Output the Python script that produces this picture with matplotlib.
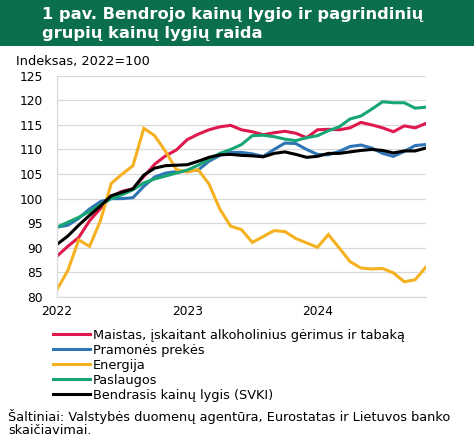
import numpy as np
import matplotlib
matplotlib.use('Agg')
import matplotlib.pyplot as plt
from matplotlib.patches import Rectangle

plt.rcParams['font.family'] = ['DejaVu Sans']

# mėnesiai nuo 2022-01 iki 2024-11
months = np.arange(35)
year_ticks = [0, 12, 24]
year_labels = ['2022', '2023', '2024']

maistas = [88.3, 90.3, 92.1, 95.5, 98.0, 100.4, 101.5, 102.0, 104.5, 107.0,
           108.7, 109.9, 112.0, 113.1, 114.0, 114.6, 114.9, 114.0, 113.6, 113.0,
           113.4, 113.7, 113.3, 112.4, 114.0, 114.1, 114.0, 114.4, 115.5, 115.0,
           114.4, 113.6, 114.8, 114.4, 115.3]
pramone = [94.2, 94.6, 96.0, 97.9, 99.4, 100.0, 100.0, 100.2, 102.5, 104.4,
           105.2, 105.5, 105.6, 105.8, 107.6, 108.8, 109.4, 109.4, 109.1, 108.6,
           110.0, 111.3, 111.2, 110.0, 109.0, 108.9, 109.6, 110.6, 110.9, 110.3,
           109.2, 108.6, 109.6, 110.8, 111.0]
energija = [81.5, 85.4, 91.6, 90.3, 95.5, 103.1, 105.0, 106.7, 114.3, 112.8,
            109.6, 105.9, 105.4, 105.9, 103.0, 97.9, 94.4, 93.7, 91.1, 92.3,
            93.5, 93.3, 91.9, 91.0, 90.1, 92.7, 90.0, 87.2, 85.9, 85.7,
            85.8, 84.9, 83.1, 83.5, 86.1]
paslaugos = [94.2, 95.2, 96.2, 97.4, 98.8, 100.0, 100.8, 101.8, 103.2, 104.0,
             104.6, 105.2, 105.8, 106.8, 108.0, 109.2, 110.0, 111.0, 112.8, 112.9,
             112.6, 112.1, 111.8, 112.4, 112.8, 113.8, 114.6, 116.2, 116.8, 118.2,
             119.7, 119.5, 119.5, 118.4, 118.6]
svki = [90.7, 92.4, 94.6, 96.6, 98.5, 100.6, 101.3, 102.0, 104.8, 106.2,
        106.7, 106.8, 106.9, 107.6, 108.4, 108.9, 109.0, 108.8, 108.7, 108.5,
        109.2, 109.5, 109.0, 108.4, 108.6, 109.2, 109.2, 109.5, 109.8, 110.0,
        109.8, 109.3, 109.7, 109.7, 110.3]

series = [
    ('Maistas, įskaitant alkoholinius gėrimus ir tabaką', maistas, '#E0194D'),
    ('Pramonės prekės', pramone, '#2E75B6'),
    ('Energija', energija, '#F5B120'),
    ('Paslaugos', paslaugos, '#17A673'),
    ('Bendrasis kainų lygis (SVKI)', svki, '#000000'),
]

W, H = 474, 446
fig = plt.figure(figsize=(W / 100, H / 100), dpi=100)

# žalia antraštės juosta
fig.patches.append(Rectangle((0, 1 - 46 / H), 1, 46 / H, transform=fig.transFigure,
                             facecolor='#0B6E4F', edgecolor='none', zorder=0))
fig.text(42 / W, 1 - 15 / H, '1 pav. Bendrojo kainų lygio ir pagrindinių',
         color='white', fontsize=11.7, fontweight='bold', va='center', ha='left')
fig.text(42 / W, 1 - 33.5 / H, 'grupių kainų lygių raida',
         color='white', fontsize=11.7, fontweight='bold', va='center', ha='left')

ax = fig.add_axes([57 / W, 1 - 297 / H, (426 - 57) / W, (297 - 75.7) / H])
for label, vals, col in series:
    ax.plot(months, vals, color=col, linewidth=2.2, label=label,
            solid_joinstyle='miter')

ax.set_xlim(0, 34)
ax.set_ylim(80, 125)
ax.set_yticks(range(80, 126, 5))
ax.set_xticks(year_ticks)
ax.set_xticklabels(year_labels)
ax.grid(axis='y', color='#D9D9D9', linewidth=0.9)
ax.set_axisbelow(True)
ax.tick_params(length=0, labelsize=8.8, colors='black')
ax.tick_params(axis='y', pad=10)
ax.tick_params(axis='x', pad=6)
for s in ['top', 'right']:
    ax.spines[s].set_visible(False)
for s in ['left', 'bottom']:
    ax.spines[s].set_color('#D9D9D9')
    ax.spines[s].set_linewidth(0.9)

fig.text(16 / W, 1 - 62 / H, 'Indeksas, 2022=100', fontsize=9.3, va='center', ha='left')

handles, labels = ax.get_legend_handles_labels()
fig.legend(handles, labels, loc='upper left', bbox_to_anchor=(53 / W, 1 - 329 / H),
           frameon=False, fontsize=9.3, handlelength=2.85, handletextpad=0.22,
           labelspacing=0.15, borderaxespad=0, borderpad=0)

fig.text(8 / W, 1 - 423 / H,
         'Šaltiniai: Valstybės duomenų agentūra, Eurostatas ir Lietuvos banko\nskaičiavimai.',
         fontsize=9.3, va='center', ha='left', linespacing=0.98)

fig.savefig('out.png', dpi=100)
